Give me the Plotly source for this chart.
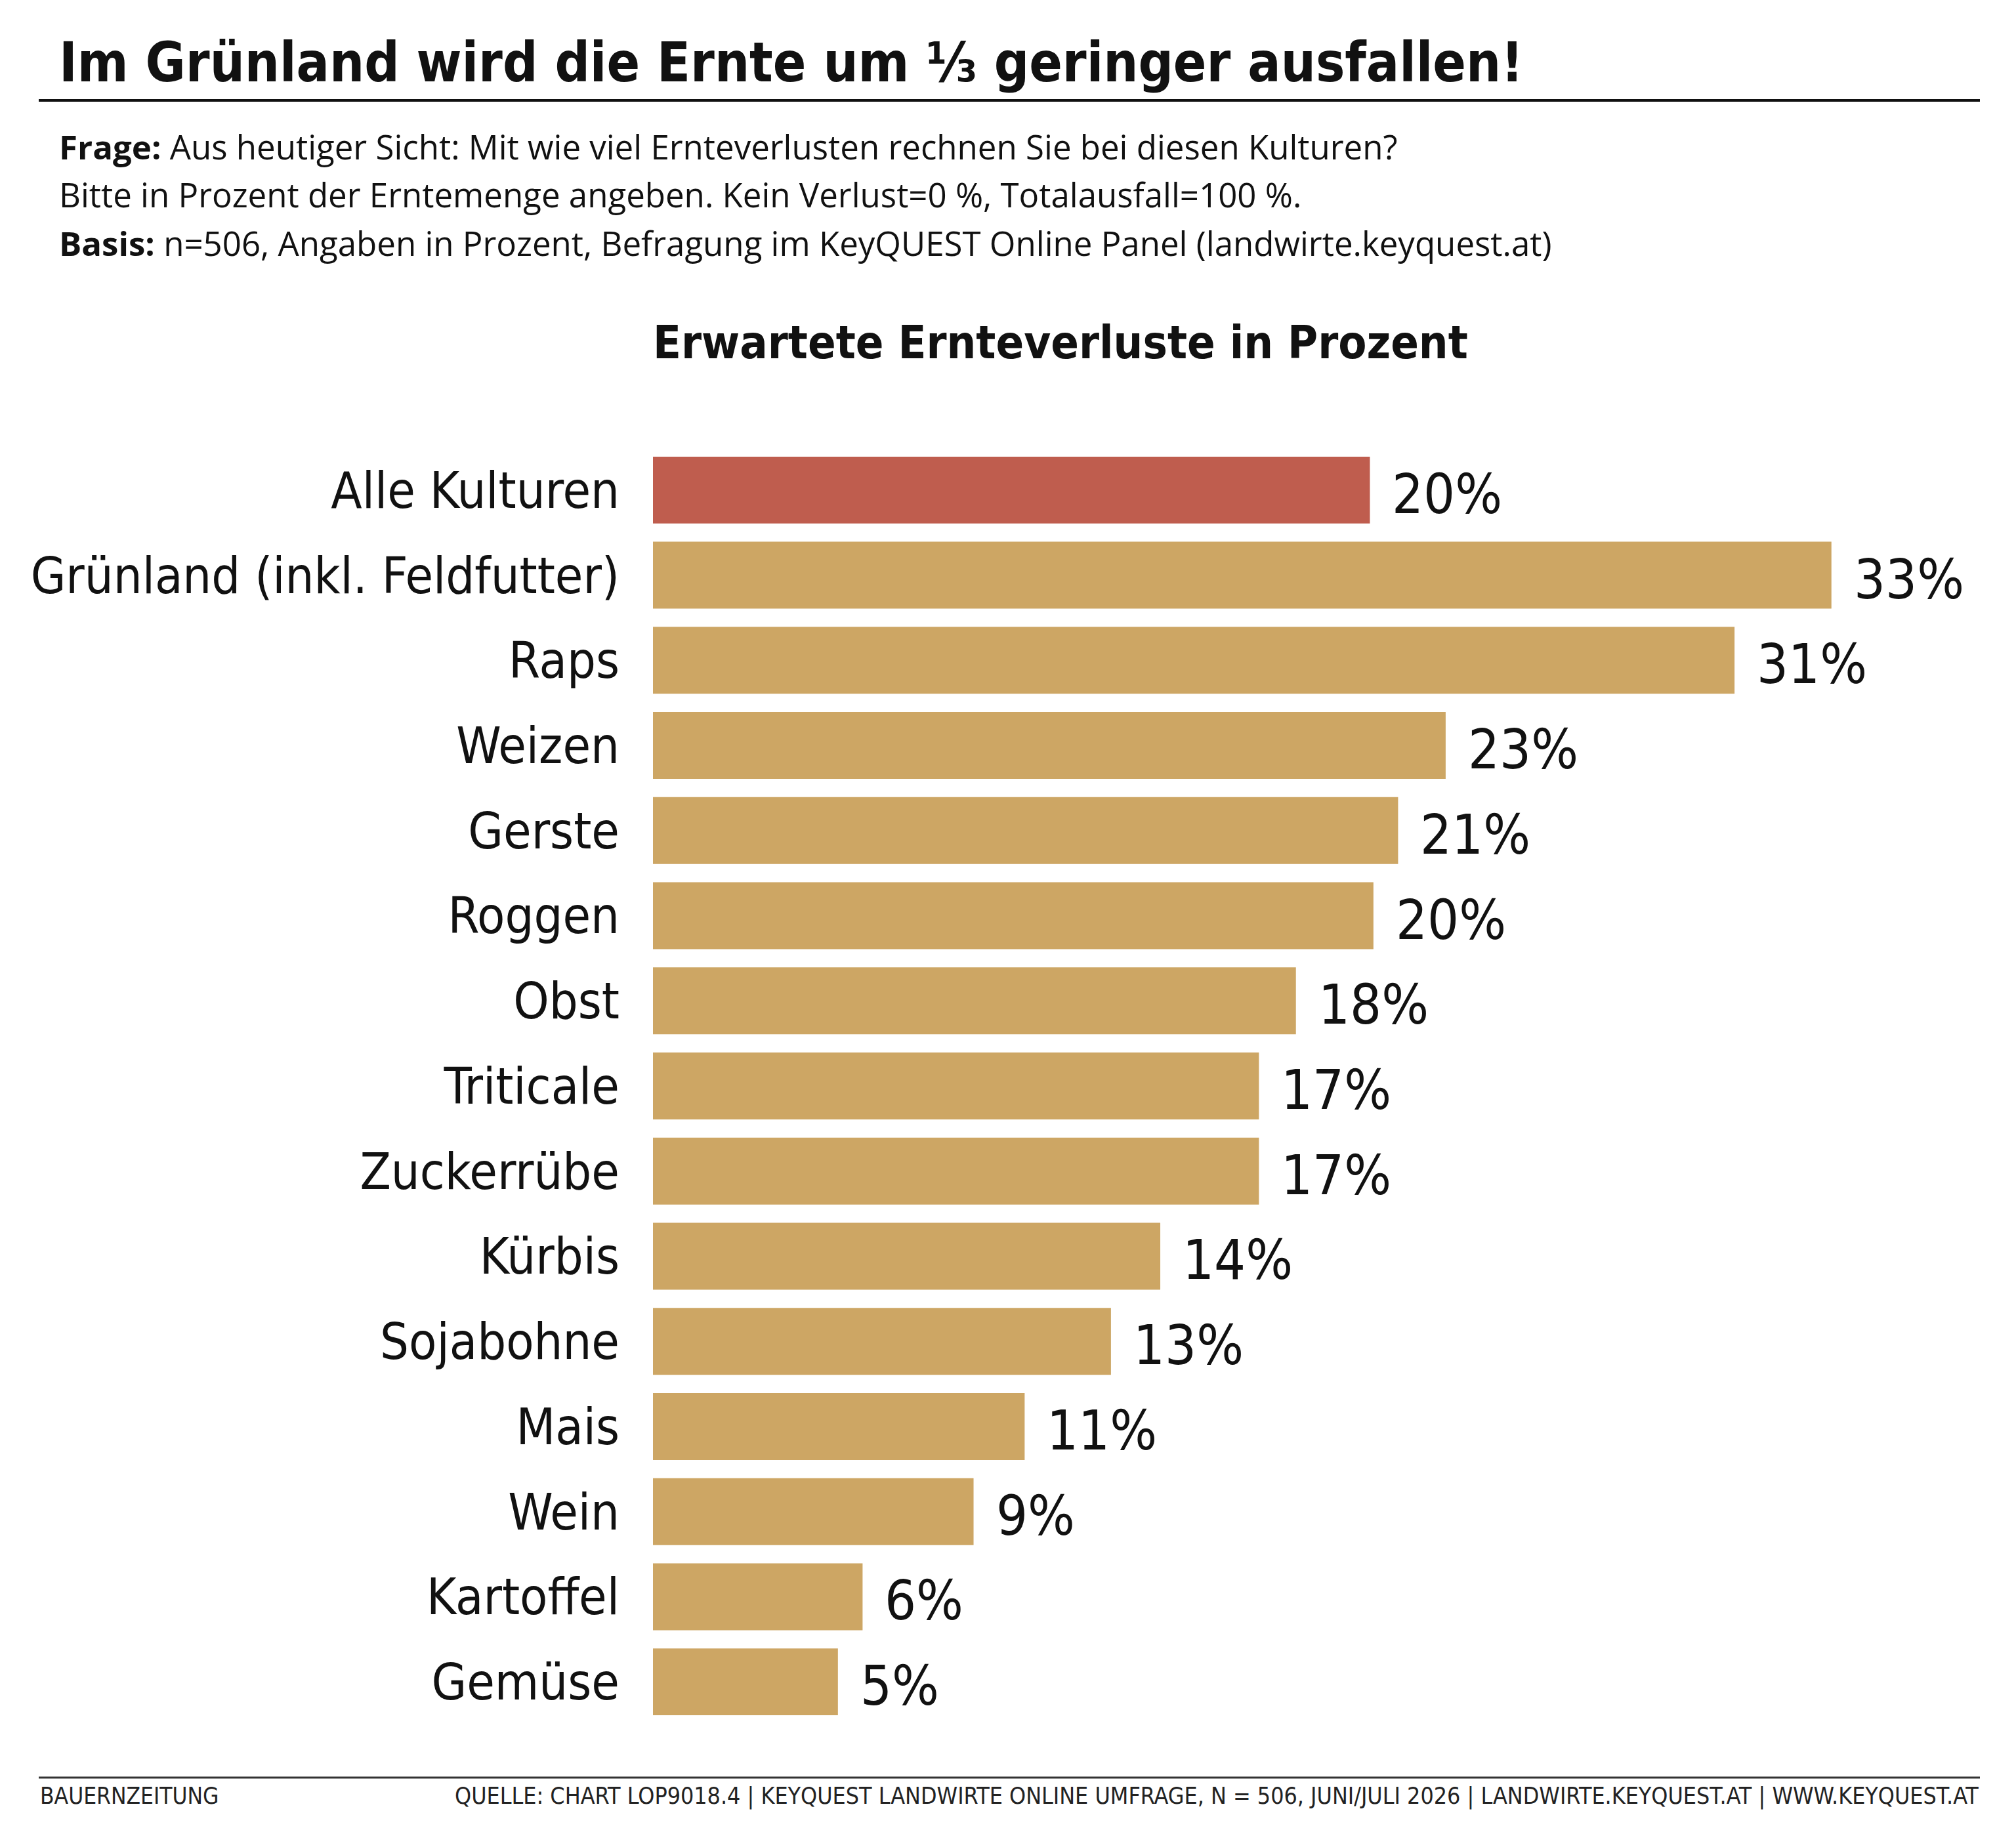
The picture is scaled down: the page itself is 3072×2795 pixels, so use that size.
import plotly.graph_objects as go

# ---- data ----
categories = ["Alle Kulturen", "Grünland (inkl. Feldfutter)", "Raps", "Weizen", "Gerste",
              "Roggen", "Obst", "Triticale", "Zuckerrübe", "Kürbis", "Sojabohne", "Mais",
              "Wein", "Kartoffel", "Gemüse"]
values = [20.35, 33.45, 30.7, 22.5, 21.15, 20.45, 18.25, 17.2, 17.2, 14.4, 13.0, 10.55, 9.1, 5.95, 5.25]
value_labels = ["20%", "33%", "31%", "23%", "21%", "20%", "18%", "17%", "17%", "14%", "13%",
                "11%", "9%", "6%", "5%"]
highlight = ["Alle Kulturen"]

title_text = "Im Grünland wird die Ernte um ⅓ geringer ausfallen!"
subtitle_lines = [
    "<b>Frage:</b> Aus heutiger Sicht: Mit wie viel Ernteverlusten rechnen Sie bei diesen Kulturen?",
    "Bitte in Prozent der Erntemenge angeben. Kein Verlust=0 %, Totalausfall=100 %.",
    "<b>Basis:</b> n=506, Angaben in Prozent, Befragung im KeyQUEST Online Panel (landwirte.keyquest.at)",
]
chart_title = "<b>Erwartete Ernteverluste in Prozent</b>"
footer_left = "BAUERNZEITUNG"
footer_right = ("QUELLE: CHART LOP9018.4 | KEYQUEST LANDWIRTE ONLINE UMFRAGE, N = 506, JUNI/JULI 2026 | "
                "LANDWIRTE.KEYQUEST.AT | WWW.KEYQUEST.AT")

RED = "#BF5D4E"
GOLD = "#CDA664"
W, H = 3072, 2795
L, R, T, B = 995, 37, 682, 167
PW, PH = W - L - R, H - T - B

COND = "DejaVu Sans Condensed, Liberation Sans Narrow, Liberation Sans, sans-serif"
REG = "Open Sans, Liberation Sans, Arial, sans-serif"


def px(x):
    return (x - L) / PW


def py(y):
    return (H - B - y) / PH


colors = [RED if c in highlight else GOLD for c in categories]

fig = go.Figure(go.Bar(
    x=values, y=categories, orientation="h",
    marker=dict(color=colors, line=dict(width=0)),
    hoverinfo="skip",
))

annotations = []
for c, v, lab in zip(categories, values, value_labels):
    annotations.append(dict(x=v, y=c, xref="x", yref="y", text=lab, showarrow=False,
                            xanchor="left", yanchor="middle", xshift=32, yshift=-6,
                            font=dict(family=COND, size=84, color="#111")))

annotations.append(dict(x=px(88), y=py(96), xref="paper", yref="paper", text="<b>" + title_text + "</b>",
                        showarrow=False, xanchor="left", yanchor="middle",
                        font=dict(family=COND, size=83, color="#111")))
for i, (line, yy) in enumerate(zip(subtitle_lines, [223, 296, 370])):
    annotations.append(dict(x=px(88), y=py(yy), xref="paper", yref="paper", text=line,
                            showarrow=False, xanchor="left", yanchor="middle",
                            font=dict(family=REG, size=51, color="#111")))
annotations.append(dict(x=px(1616), y=py(522), xref="paper", yref="paper", text=chart_title,
                        showarrow=False, xanchor="center", yanchor="middle",
                        font=dict(family=COND, size=70, color="#111")))
annotations.append(dict(x=px(59), y=py(2737), xref="paper", yref="paper", text=footer_left,
                        showarrow=False, xanchor="left", yanchor="middle",
                        font=dict(family=COND, size=35, color="#222")))
annotations.append(dict(x=px(3017), y=py(2737), xref="paper", yref="paper", text=footer_right,
                        showarrow=False, xanchor="right", yanchor="middle",
                        font=dict(family=COND, size=35.5, color="#222")))

shapes = [
    dict(type="line", xref="paper", yref="paper", x0=px(59), x1=px(3017), y0=py(153), y1=py(153),
         line=dict(color="#111", width=4)),
    dict(type="line", xref="paper", yref="paper", x0=px(59), x1=px(3017), y0=py(2709), y1=py(2709),
         line=dict(color="#333", width=3)),
]

fig.update_layout(
    width=W, height=H,
    margin=dict(l=L, r=R, t=T, b=B, autoexpand=False),
    paper_bgcolor="white", plot_bgcolor="white",
    bargap=0.214,
    showlegend=False,
    xaxis=dict(range=[0, 38], visible=False, fixedrange=True),
    yaxis=dict(type="category", autorange="reversed", showgrid=False, zeroline=False,
               showline=False, ticks="", ticklabelstandoff=50,
               tickfont=dict(family=COND, size=77, color="#111"), fixedrange=True),
    annotations=annotations,
    shapes=shapes,
)

fig.write_html("out.html")
